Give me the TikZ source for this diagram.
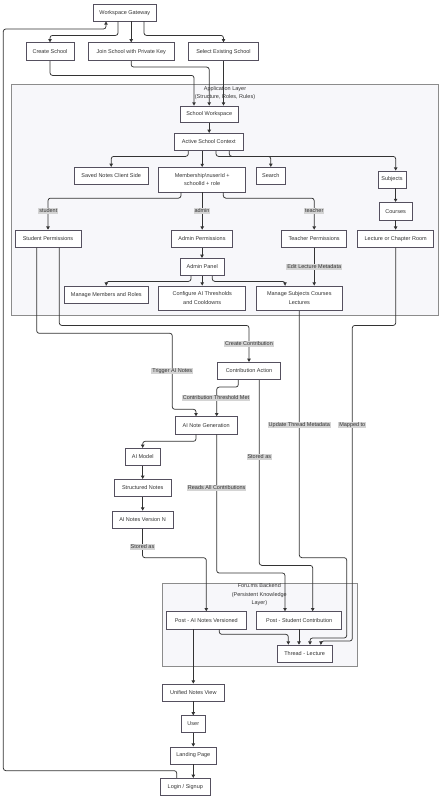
\documentclass[tikz,border=0pt]{standalone}
\usepackage{fontspec}
\setmainfont{Liberation Sans}
\usetikzlibrary{arrows.meta,calc}
\definecolor{boxc}{HTML}{55505F}
\definecolor{linec}{HTML}{333333}
\definecolor{txtc}{HTML}{333333}
\definecolor{lblc}{HTML}{D4D4D4}
\definecolor{clfill}{HTML}{F7F7FA}
\definecolor{cldraw}{HTML}{8C8C8C}
\tikzset{
  box/.style={draw=boxc, fill=white, line width=0.75pt, inner sep=0pt, align=center, text=txtc,
    font=\fontsize{5.5}{8.6}\selectfont},
  lbl/.style={fill=lblc, inner sep=0.9pt, text=txtc, font=\fontsize{5.5}{8.6}\selectfont},
  cltitle/.style={inner sep=0pt, align=center, text=txtc, font=\fontsize{5.5}{8.4}\selectfont},
  cluster/.style={draw=cldraw, fill=clfill, line width=0.7pt},
  arr/.style={draw=linec, line width=0.75pt, rounded corners=2.5pt, -{Triangle[length=3.2pt,width=3.4pt]}},
  ln/.style={draw=linec, line width=0.75pt, rounded corners=2.5pt}
}
\begin{document}
\begin{tikzpicture}[x=1pt,y=-1pt]
\useasboundingbox[fill=white] (0,0) rectangle (441,800);
% clusters
\draw[cluster] (11,84.3) rectangle (438.3,315);
\node[cltitle] (apptitle) at (225,93.2) {Application Layer\\(Structure, Roles, Rules)};
\draw[cluster] (162.7,583.3) rectangle (357.7,666);
\node[cltitle] (forutitle) at (259.3,594.7) {Foru.ms Backend\\(Persistent Knowledge\\Layer)};
% nodes
\node[box, minimum width=63.7, minimum height=16.7] (gw) at (124.8,12.7) {Workspace Gateway};
\node[box, minimum width=48, minimum height=18] (cs) at (50,51.7) {Create School};
\node[box, minimum width=85.7, minimum height=18] (join) at (131.2,51.7) {Join School with Private Key};
\node[box, minimum width=69.6, minimum height=18] (sel) at (223.5,51.7) {Select Existing School};
\node[box, minimum width=58.3, minimum height=16.7] (sw) at (209.2,114.3) {School Workspace};
\node[box, minimum width=69, minimum height=17.4] (asc) at (208.8,142) {Active School Context};
\node[box, minimum width=74.3, minimum height=17] (saved) at (111.2,175.8) {Saved Notes Client Side};
\node[box, minimum width=87, minimum height=24.7] (mem) at (202.2,179.7) {Membership\textbackslash nuserId +\\schoolId + role};
\node[box, minimum width=29.7, minimum height=17] (search) at (270.8,175.8) {Search};
\node[box, minimum width=28, minimum height=17] (subj) at (392,179.5) {Subjects};
\node[box, minimum width=32.7, minimum height=17.7] (courses) at (395.6,211.2) {Courses};
\node[box, minimum width=66, minimum height=17.3] (stud) at (48,238.7) {Student Permissions};
\node[box, minimum width=60.6, minimum height=17.3] (admp) at (202,238.7) {Admin Permissions};
\node[box, minimum width=65, minimum height=17.3] (teach) at (314.2,238.7) {Teacher Permissions};
\node[box, minimum width=76, minimum height=17.3] (lect) at (395.7,238.7) {Lecture or Chapter Room};
\node[box, minimum width=43.7, minimum height=17.4] (adpanel) at (202.2,267) {Admin Panel};
\node[box, minimum width=84, minimum height=17.3] (mmr) at (106.3,294.7) {Manage Members and Roles};
\node[box, minimum width=87, minimum height=24.7] (cfg) at (202.2,298.3) {Configure AI Thresholds\\and Cooldowns};
\node[box, minimum width=86.7, minimum height=24.7] (msc) at (299.3,298.3) {Manage Subjects Courses\\Lectures};
\node[box, minimum width=63.4, minimum height=17.4] (ca) at (249,371) {Contribution Action};
\node[box, minimum width=62.3, minimum height=17.3] (ang) at (206.2,425.3) {AI Note Generation};
\node[box, minimum width=35.3, minimum height=17] (aim) at (142.7,456.8) {AI Model};
\node[box, minimum width=57.3, minimum height=17.4] (sn) at (142.7,488) {Structured Notes};
\node[box, minimum width=61, minimum height=17.3] (anv) at (142.5,519.7) {AI Notes Version N};
\node[box, minimum width=79.3, minimum height=17.3] (pav) at (206.3,620.3) {Post - AI Notes Versioned};
\node[box, minimum width=85, minimum height=17.3] (psc) at (299.2,620.3) {Post - Student Contribution};
\node[box, minimum width=55.3, minimum height=17.3] (thr) at (304.7,653.7) {Thread - Lecture};
\node[box, minimum width=61.3, minimum height=17] (unv) at (193.3,692.5) {Unified Notes View};
\node[box, minimum width=24, minimum height=16.6] (user) at (193.3,724) {User};
\node[box, minimum width=46, minimum height=17] (land) at (193.3,755.5) {Landing Page};
\node[box, minimum width=50, minimum height=17.4] (login) at (185.3,787) {Login / Signup};
% edges
\begin{scope}[on background layer/.style={}]
\draw[arr] ([xshift=-6.8]gw.south) -- ++(0,14) -| (cs.north);
\draw[arr] (join.north |- gw.south) -- (join.north);
\draw[arr] ([xshift=19.2]gw.south) -- ++(0,14) -| (sel.north);
\draw[arr] (cs.south) -- ++(0,14.3) -| ([xshift=-15.2]sw.north);
\draw[arr] (join.south) -- ++(0,6) -| (sw.north);
\draw[arr] (sel.south) -- (sel.south |- sw.north);
\draw[arr] (sw.south) -- (sw.south |- asc.north);
\draw[arr] ([xshift=-20.5]asc.south) -- ++(0,5.3) -| (saved.north);
\draw[arr] (mem.north |- asc.south) -- (mem.north);
\draw[arr] ([xshift=7.2]asc.south) -- ++(0,5.3) -| (search.north);
\draw[arr] ([xshift=20.5]asc.south) -- ++(0,5.3) -| ([xshift=3.7]subj.north);
\draw[arr] ([xshift=-21.2]mem.south) -- ++(0,5.7) -| (stud.north);
\draw[arr] (mem.south) -- (mem.south |- admp.north);
\draw[arr] ([xshift=21.1]mem.south) -- ++(0,5.7) -| (teach.north);
\draw[arr] (courses.north |- subj.south) -- (courses.north);
\draw[arr] (courses.south) -- (courses.south |- lect.north);
\draw[arr] (admp.south) -- (admp.south |- adpanel.north);
\draw[arr] ([xshift=-11.2]adpanel.south) -- ++(0,5.3) -| (mmr.north);
\draw[arr] (cfg.north |- adpanel.south) -- (cfg.north);
\draw[arr] ([xshift=10.1]adpanel.south) -- ++(0,5.3) -| ([xshift=-14.3]msc.north);
\draw[arr] (teach.south) -- (teach.south |- msc.north);
\draw[arr] ([xshift=11.3]stud.south) -- ++(0,77.7) -| (ca.north);
\draw[arr] ([xshift=-11.3]stud.south) |- (172.3,333.3) -- (172.3,409.3) -| ([xshift=-10.2]ang.north);
\draw[arr] ([xshift=-10.7]ca.south) -- ++(0,7) -| ([xshift=10.5]ang.north);
\draw[arr] ([xshift=10.3]ca.south) -- ++(0,185.3) -| ([xshift=13.5]psc.north);
\draw[arr] ([xshift=-10.2]ang.south) -- ++(0,7) -| (aim.north);
\draw[arr] ([xshift=10.5]ang.south) -- ++(0,138.7) -| ([xshift=-14.2]psc.north);
\draw[arr] (aim.south) -- (sn.north);
\draw[arr] (sn.south |- sn.south) -- (sn.south |- anv.north);
\draw[arr] (anv.south) -- ++(0,29) -| (pav.north);
\draw[arr] (msc.south) -- ++(0,246.6) -| (346.7,638) -| ([xshift=5.3]thr.north);
\draw[arr] (lect.south) -- ++(0,77.7) -| (352.3,641) -| ([xshift=16.3]thr.north);
\draw[arr] ([xshift=13]pav.south) -- ++(0,5) -| ([xshift=-16.4]thr.north);
\draw[arr] ([xshift=-5.7]thr.north |- psc.south) -- ([xshift=-5.7]thr.north);
\draw[arr] (unv.north |- pav.south) -- (unv.north);
\draw[arr] (unv.south) -- (user.north);
\draw[arr] (user.south) -- (land.north);
\draw[arr] (land.south) -- (land.south |- login.north);
\draw[arr] ([xshift=-8.6]login.north) -- ++(0,-7.3) -| (3.3,29) -| ([xshift=-18.8]gw.south);
\end{scope}
% edge labels
\node[lbl] (lstud) at (48.3,211) {student};
\node[lbl] (ladm) at (202,211) {admin};
\node[lbl] (lteach) at (314.2,211) {teacher};
\node[lbl] (ledit) at (314.2,266.7) {Edit Lecture Metadata};
\node[lbl] (lcreate) at (249,344) {Create Contribution};
\node[lbl] (ltrig) at (172.3,371) {Trigger AI Notes};
\node[lbl] (lthr) at (216,398) {Contribution Threshold Met};
\node[lbl] (lupd) at (299.3,425) {Update Thread Metadata};
\node[lbl] (lmap) at (352.3,425) {Mapped to};
\node[lbl] (lstored1) at (259.3,456.7) {Stored as};
\node[lbl] (lreads) at (216.7,488) {Reads All Contributions};
\node[lbl] (lstored2) at (142.5,546.7) {Stored as};
\end{tikzpicture}
\end{document}
